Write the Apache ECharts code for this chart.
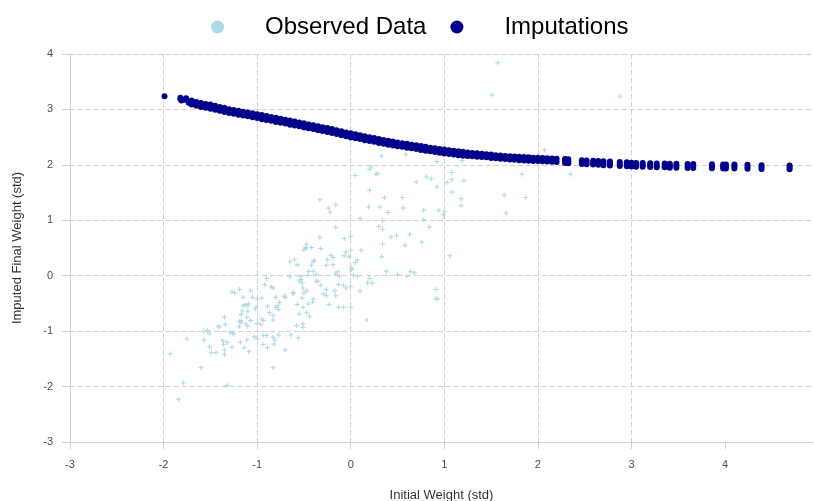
<!DOCTYPE html>
<html lang="en">

<head>
    <meta charset="UTF-8">
    <title>Observed vs Imputed</title>
    <script src="https://cdn.jsdelivr.net/npm/echarts@6/dist/echarts.min.js"></script>
    <style>
        body { margin: 0; background: #fff; }
    </style>
</head>

<body>
    <div id="main" style="width: 814px;height: 501px;"></div>

    <script>
        // observed points [initial weight, final weight]
        const observed = [
            [0.33, 2.16], [0.59, 2.19], [0.92, 2.06], [1.19, 2.08],
            [0.22, 1.96], [0.20, 1.92], [0.29, 1.84], [0.27, 1.83], [0.05, 1.81], [0.70, 1.69], [0.81, 1.78], [0.86, 1.75],
            [0.92, 1.60], [1.03, 1.68], [1.08, 1.73], [1.08, 1.86], [1.21, 1.72], [1.08, 1.51], [0.20, 1.54],
            [-0.33, 1.37], [-0.24, 1.22], [-0.22, 1.15], [-0.16, 1.28], [0.19, 1.24], [0.31, 1.24], [0.36, 1.41], [0.40, 1.14],
            [0.55, 1.41], [0.56, 1.22], [0.78, 1.18], [0.94, 1.18], [1.00, 1.15], [0.99, 1.10], [1.18, 1.39], [1.18, 1.26],
            [0.10, 1.03], [0.34, 0.99], [0.78, 1.01], [0.84, 0.88], [0.30, 0.89], [0.34, 0.84], [-0.16, 0.87], [-0.33, 0.69],
            [-0.32, 0.49], [-0.07, 0.67], [0.00, 0.71], [0.43, 0.70], [0.49, 0.72], [0.63, 0.75], [0.76, 0.61], [0.58, 0.55],
            [0.34, 0.57], [0.33, 0.34], [1.06, 0.36], [0.11, 0.46],
            [0.00, 0.46], [-0.05, 0.43], [-0.07, 0.36], [-0.02, 0.35], [-0.21, 0.37], [-0.19, 0.33], [-0.25, 0.29], [-0.19, 0.20],
            [-0.26, 0.19], [0.07, 0.28], [0.05, 0.24], [0.01, 0.14], [0.01, 0.11], [-0.16, 0.03], [-0.14, 0.07], [-0.12, -0.01],
            [0.03, 0.01], [0.07, -0.01], [0.38, 0.08], [0.50, 0.02], [0.60, -0.01], [0.64, 0.07], [0.68, 0.05], [0.20, -0.05],
            [0.23, -0.13], [0.18, -0.13], [0.10, -0.28], [0.91, -0.25], [0.91, -0.42], [0.93, -0.42], [0.17, -0.80],
            [-0.48, 0.51], [-0.50, 0.47], [-0.48, 0.49], [-0.47, 0.57], [-0.42, 0.51], [-0.65, 0.25], [-0.60, 0.29], [-0.57, 0.20],
            [-0.40, 0.25], [-0.39, 0.28], [-0.42, 0.19], [-0.45, 0.08], [-0.40, 0.08], [-0.65, -0.01], [-0.54, -0.01], [-0.46, 0.01],
            [-0.55, -0.10], [-0.52, -0.13], [-0.53, -0.07], [-0.51, -0.22], [-0.37, -0.10], [-0.35, -0.10], [-0.32, -0.17],
            [-0.26, -0.25], [-0.29, -0.33], [-0.26, -0.36], [-0.17, -0.27], [-0.13, -0.16], [-0.08, -0.17], [-0.05, -0.22],
            [0.00, -0.20], [-0.16, -0.36], [-0.47, -0.27], [-0.40, -0.42], [-0.41, -0.48], [-0.45, -0.51], [-0.37, 0.02],
            [-0.23, -0.52], [-0.13, -0.57], [-0.08, -0.57], [0.00, -0.57], [-0.50, -0.31], [-0.52, -0.40], [-0.57, -0.52],
            [-0.62, -0.31], [-0.61, -0.31], [-0.70, -0.39], [-0.71, -0.37], [-0.51, -0.57], [-0.47, -0.67], [-0.55, -0.69],
            [-0.44, -0.73], [-0.58, -0.90], [-0.51, -0.87], [-0.51, -0.93], [-0.56, -1.12], [-0.64, -1.07],
            [-0.76, -0.48], [-0.78, -0.54], [-0.80, -0.57], [-0.77, -0.61], [-0.90, -0.05], [-0.92, -0.16], [-0.85, -0.20],
            [-0.83, -0.22], [-0.80, -0.39], [-0.89, -0.55], [-0.87, -0.67], [-0.83, -0.72], [-0.83, -0.80], [-0.95, -0.40],
            [-1.00, -0.42], [-1.02, -0.60], [-1.01, -0.57], [-0.95, -0.78], [-0.93, -0.81], [-0.96, -0.88], [-1.00, -0.86],
            [-0.93, -1.08], [-0.90, -1.08], [-0.83, -1.11], [-0.81, -1.16], [-0.82, -1.23], [-0.77, -1.07], [-0.70, -1.34],
            [-0.89, -1.30], [-0.94, -1.24], [-0.83, -1.66], [-1.03, -1.10], [-1.00, -1.14],
            [-1.11, -0.54], [-1.09, -0.51], [-1.15, -0.54], [-1.16, -0.63], [-1.10, -0.64], [-1.17, -0.70], [-1.11, -0.75],
            [-1.07, -0.81], [-1.10, -0.91], [-1.12, -0.87], [-1.19, -0.25], [-1.07, -0.27], [-1.05, -0.39], [-1.27, -0.29],
            [-1.24, -0.31], [-1.15, -0.39], [-1.13, -0.52], [-1.19, -0.82], [-1.17, -0.81], [-1.19, -0.92], [-1.17, -0.85],
            [-1.14, -1.30], [-1.09, -1.37], [-1.18, -1.20], [-1.11, -1.16], [-1.27, -1.29], [-1.26, -1.04], [-1.29, -1.02],
            [-1.25, -1.05], [-1.35, -0.75], [-1.34, -0.88], [-1.40, -0.92], [-1.37, -1.17], [-1.36, -1.24], [-1.32, -1.20],
            [-1.35, -1.34], [-1.35, -1.42], [-1.42, -0.92], [-1.51, -1.04], [-1.53, -0.99], [-1.57, -1.00], [-1.57, -1.16],
            [-1.51, -1.28], [-1.49, -1.39], [-1.44, -1.39], [-1.75, -1.14], [-1.60, -1.66], [-1.32, -1.98], [-1.79, -1.93],
            [-1.93, -1.41], [-1.84, -2.23],
            [1.57, 3.84], [1.51, 3.26], [2.88, 3.24], [2.07, 2.27], [1.64, 1.45], [1.83, 1.83], [1.87, 1.41], [2.35, 1.83], [1.66, 1.13]
        ];

        // imputed points
        const imputed = [
            [-1.99, 3.24], [-1.82, 3.19], [-1.81, 3.16], [-1.82, 3.21], [-1.80, 3.175], [-1.76, 3.20], [-1.76, 3.17],
            [-1.74, 3.15], [-1.73, 3.12],
            [-1.70, 3.16], [-1.70, 3.09], [-1.65, 3.135], [-1.65, 3.065], [-1.60, 3.115], [-1.60, 3.045],
            [-1.55, 3.10], [-1.55, 3.03], [-1.50, 3.09], [-1.50, 3.01], [-1.45, 3.065], [-1.45, 2.995],
            [-1.40, 3.045], [-1.40, 2.975], [-1.35, 3.03], [-1.35, 2.955], [-1.30, 3.005], [-1.30, 2.935],
            [-1.25, 2.99], [-1.25, 2.92], [-1.20, 2.975], [-1.20, 2.905], [-1.15, 2.96], [-1.15, 2.89],
            [-1.10, 2.945], [-1.10, 2.875], [-1.05, 2.93], [-1.05, 2.86], [-1.00, 2.915], [-1.00, 2.845],
            [-0.95, 2.90], [-0.95, 2.825], [-0.90, 2.88], [-0.90, 2.81], [-0.85, 2.865], [-0.85, 2.795],
            [-0.80, 2.85], [-0.80, 2.775], [-0.75, 2.83], [-0.75, 2.76], [-0.70, 2.815], [-0.70, 2.745],
            [-0.65, 2.80], [-0.65, 2.725], [-0.60, 2.78], [-0.60, 2.71], [-0.55, 2.765], [-0.55, 2.695],
            [-0.50, 2.75], [-0.50, 2.675], [-0.45, 2.73], [-0.45, 2.66], [-0.40, 2.715], [-0.40, 2.645],
            [-0.35, 2.695], [-0.35, 2.625], [-0.30, 2.68], [-0.30, 2.61], [-0.25, 2.665], [-0.25, 2.595],
            [-0.20, 2.645], [-0.20, 2.575], [-0.15, 2.625], [-0.15, 2.555], [-0.10, 2.605], [-0.10, 2.535],
            [-0.05, 2.585], [-0.05, 2.515], [0.00, 2.57], [0.00, 2.495], [0.05, 2.55], [0.05, 2.48],
            [0.10, 2.535], [0.10, 2.465], [0.15, 2.515], [0.15, 2.445], [0.20, 2.50], [0.20, 2.43],
            [0.25, 2.485], [0.25, 2.415], [0.30, 2.465], [0.30, 2.395], [0.35, 2.45], [0.35, 2.38],
            [0.40, 2.435], [0.40, 2.365], [0.45, 2.42], [0.45, 2.35], [0.50, 2.405], [0.50, 2.335],
            [0.55, 2.39], [0.55, 2.325], [0.60, 2.38], [0.60, 2.31], [0.65, 2.365], [0.65, 2.30],
            [0.70, 2.355], [0.70, 2.285], [0.75, 2.34], [0.75, 2.27], [0.80, 2.325], [0.80, 2.255],
            [0.85, 2.31], [0.85, 2.245], [0.90, 2.30], [0.90, 2.23], [0.95, 2.285], [0.95, 2.22],
            [1.00, 2.275], [1.00, 2.205], [1.05, 2.265], [1.05, 2.195], [1.10, 2.255], [1.10, 2.185],
            [1.15, 2.245], [1.15, 2.175], [1.20, 2.235], [1.20, 2.165], [1.25, 2.225], [1.25, 2.16],
            [1.30, 2.215], [1.30, 2.155], [1.35, 2.21], [1.35, 2.145], [1.40, 2.20], [1.40, 2.14],
            [1.45, 2.19], [1.45, 2.135], [1.50, 2.185], [1.50, 2.125], [1.55, 2.175], [1.55, 2.12],
            [1.60, 2.17], [1.60, 2.11], [1.65, 2.16], [1.65, 2.105], [1.70, 2.155], [1.70, 2.095],
            [1.75, 2.15], [1.75, 2.09], [1.80, 2.145], [1.80, 2.085], [1.85, 2.14], [1.85, 2.08],
            [1.90, 2.135], [1.90, 2.075], [1.95, 2.13], [1.95, 2.07], [2.00, 2.13], [2.00, 2.07],
            [2.05, 2.125], [2.05, 2.065], [2.10, 2.12], [2.10, 2.06], [2.15, 2.115], [2.15, 2.055],
            [2.20, 2.11], [2.20, 2.05],
            [2.29, 2.105], [2.29, 2.07], [2.29, 2.035], [2.325, 2.10], [2.325, 2.065], [2.325, 2.03],
            [2.47, 2.085], [2.47, 2.05], [2.47, 2.015], [2.52, 2.08], [2.52, 2.045], [2.52, 2.01],
            [2.59, 2.075], [2.59, 2.04], [2.59, 2.005], [2.645, 2.07], [2.645, 2.035], [2.645, 2.00],
            [2.70, 2.065], [2.70, 2.03], [2.70, 1.995], [2.77, 2.06], [2.77, 2.025], [2.77, 1.99],
            [2.875, 2.05], [2.875, 2.015], [2.875, 1.98], [2.95, 2.045], [2.95, 2.01], [2.95, 1.975],
            [3.00, 2.04], [3.00, 2.005], [3.00, 1.97], [3.05, 2.035], [3.05, 2.00], [3.05, 1.965],
            [3.12, 2.035], [3.12, 2.00], [3.12, 1.965], [3.20, 2.03], [3.20, 1.995], [3.20, 1.96],
            [3.27, 2.025], [3.27, 1.99], [3.27, 1.955], [3.355, 2.025], [3.355, 1.99], [3.355, 1.955],
            [3.41, 2.02], [3.41, 1.985], [3.41, 1.95], [3.48, 2.02], [3.48, 1.985], [3.48, 1.95],
            [3.60, 2.015], [3.60, 1.98], [3.60, 1.945], [3.66, 2.015], [3.66, 1.98], [3.66, 1.945],
            [3.86, 2.01], [3.86, 1.975], [3.86, 1.94], [3.98, 2.005], [3.98, 1.97], [3.98, 1.935],
            [4.01, 2.005], [4.01, 1.97], [4.01, 1.935], [4.10, 2.005], [4.10, 1.97], [4.10, 1.935],
            [4.24, 2.00], [4.24, 1.965], [4.24, 1.93], [4.39, 1.995], [4.39, 1.96], [4.39, 1.925],
            [4.69, 1.99], [4.69, 1.955], [4.69, 1.92]
        ];

        const seriesNames = ['Observed Data', 'Imputations'];
        const seriesColors = ['#ADD8E6', '#00008B'];
        const xTicks = [-3, -2, -1, 0, 1, 2, 3, 4];

        const gridColor = '#d0d0d0';
        const plusSymbol = 'path://M4,0H6V4H10V6H6V10H4V6H0V4H4Z';

        let myChart = echarts.init(document.getElementById('main'));

        let option = {
            animation: false,
            textStyle: { fontFamily: 'Liberation Sans, Arial, sans-serif' },
            legend: {
                left: 206,
                top: 10,
                icon: 'circle',
                itemWidth: 13,
                itemHeight: 13,
                itemGap: 24,
                textStyle: {
                    fontSize: 24,
                    color: '#000',
                    padding: [0, 0, 0, 36]
                },
                data: seriesNames
            },
            grid: {
                left: 70,
                right: 1,
                top: 54,
                bottom: 59,
                outerBoundsMode: 'none'
            },
            xAxis: {
                type: 'value',
                min: -3,
                max: 4.94,
                interval: 1,
                name: 'Initial Weight (std)',
                nameLocation: 'middle',
                nameGap: 47,
                nameTextStyle: { fontSize: 13, color: '#333' },
                axisLine: { onZero: false, lineStyle: { color: gridColor } },
                axisTick: { length: 7, customValues: xTicks, lineStyle: { color: gridColor } },
                axisLabel: {
                    margin: 17,
                    fontSize: 11,
                    color: '#4d4d4d',
                    customValues: xTicks
                },
                splitLine: { showMaxLine: false, lineStyle: { color: gridColor, type: [5, 3] } }
            },
            yAxis: {
                type: 'value',
                min: -3,
                max: 4,
                interval: 1,
                name: 'Imputed Final Weight (std)',
                nameLocation: 'middle',
                nameGap: 46,
                nameTextStyle: { fontSize: 13, color: '#333' },
                axisLine: { show: true, onZero: false, lineStyle: { color: gridColor } },
                axisTick: { show: true, length: 8, lineStyle: { color: gridColor } },
                axisLabel: { margin: 17, fontSize: 11, color: '#4d4d4d' },
                splitLine: { lineStyle: { color: gridColor, type: [5, 3] } }
            },
            series: [
                {
                    name: seriesNames[0],
                    type: 'scatter',
                    symbol: plusSymbol,
                    symbolSize: 5,
                    itemStyle: { color: seriesColors[0], opacity: 1 },
                    data: observed
                },
                {
                    name: seriesNames[1],
                    type: 'scatter',
                    symbol: 'circle',
                    symbolSize: 6,
                    itemStyle: { color: seriesColors[1], opacity: 1 },
                    data: imputed
                }
            ]
        };

        myChart.setOption(option);
    </script>
</body>

</html>
